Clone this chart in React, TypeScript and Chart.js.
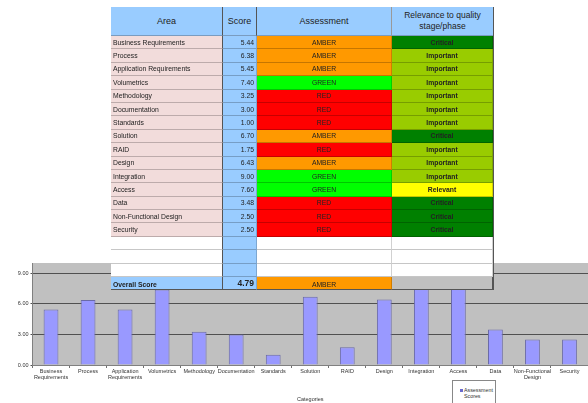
import React, { useEffect, useRef } from "react";
import { Chart, registerables } from "chart.js";

Chart.register(...registerables);

const categories = [
  "Business Requirements",
  "Process",
  "Application Requirements",
  "Volumetrics",
  "Methodology",
  "Documentation",
  "Standards",
  "Solution",
  "RAID",
  "Design",
  "Integration",
  "Access",
  "Data",
  "Non-Functional Design",
  "Security",
];
const scores = [5.44, 6.38, 5.45, 7.4, 3.25, 3.0, 1.0, 6.7, 1.75, 6.43, 9.0, 7.6, 3.48, 2.5, 2.5];
const assessments = [
  "AMBER", "AMBER", "AMBER", "GREEN", "RED", "RED", "RED", "AMBER",
  "RED", "AMBER", "GREEN", "GREEN", "RED", "RED", "RED",
];
const relevance = [
  "Critical", "Important", "Important", "Important", "Important", "Important",
  "Important", "Critical", "Important", "Important", "Important", "Relevant",
  "Critical", "Critical", "Critical",
];
const overallScore = 4.79;
const overallAssessment = "AMBER";
const yTicks = [0, 3, 6, 9];
const seriesName = "Assessment Scores";
const xAxisTitle = "Categories";

const assessColor: Record<string, string> = {
  AMBER: "#FF9900",
  GREEN: "#00FF00",
  RED: "#FF0000",
};
const relColor: Record<string, string> = {
  Critical: "#008000",
  Important: "#99CC00",
  Relevant: "#FFFF00",
};

const FONT = "'Liberation Sans', Arial, sans-serif";
const COLS = [112, 34, 135, 101];
const ROW_H = 13.4;

const plotBg = {
  id: "plotBg",
  beforeDraw(chart: any) {
    const { ctx, chartArea } = chart;
    ctx.save();
    ctx.fillStyle = "#C0C0C0";
    ctx.fillRect(chartArea.left, chartArea.top, chartArea.right - chartArea.left, chartArea.bottom - chartArea.top);
    ctx.restore();
  },
};

function Cell(props: { w: number; h: number; bg: string; children?: any; style?: any }) {
  return (
    <div
      style={{
        boxSizing: "border-box",
        width: props.w,
        height: props.h,
        background: props.bg,
        borderBottom: "1px solid rgba(0,0,0,0.22)",
        borderRight: "1px solid rgba(0,0,0,0.18)",
        display: "flex",
        alignItems: "center",
        overflow: "hidden",
        whiteSpace: "nowrap",
        fontFamily: FONT,
        fontSize: 6.8,
        color: "#222",
        ...props.style,
      }}
    >
      {props.children}
    </div>
  );
}

function Table() {
  const rows: any[] = [];
  categories.forEach((c, i) => {
    rows.push(
      <div key={c} style={{ display: "flex" }}>
        <Cell w={COLS[0]} h={ROW_H} bg="#F2DCDB" style={{ paddingLeft: 2, borderRight: "1px solid #555" }}>{c}</Cell>
        <Cell w={COLS[1]} h={ROW_H} bg="#99CCFF" style={{ justifyContent: "flex-end", paddingRight: 2 }}>{scores[i].toFixed(2)}</Cell>
        <Cell w={COLS[2]} h={ROW_H} bg={assessColor[assessments[i]]} style={{ justifyContent: "center" }}>{assessments[i]}</Cell>
        <Cell w={COLS[3]} h={ROW_H} bg={relColor[relevance[i]]} style={{ justifyContent: "center", fontWeight: "bold" }}>{relevance[i]}</Cell>
      </div>
    );
  });
  for (let k = 0; k < 3; k++) {
    rows.push(
      <div key={"e" + k} style={{ display: "flex" }}>
        <Cell w={COLS[0]} h={ROW_H} bg="#FFFFFF" style={{ borderRight: "1px solid #555" }} />
        <Cell w={COLS[1]} h={ROW_H} bg="#99CCFF" />
        <Cell w={COLS[2]} h={ROW_H} bg="#FFFFFF" />
        <Cell w={COLS[3]} h={ROW_H} bg="#FFFFFF" />
      </div>
    );
  }
  rows.push(
    <div key="overall" style={{ display: "flex" }}>
      <Cell w={COLS[0]} h={ROW_H} bg="#99CCFF" style={{ paddingLeft: 2, fontWeight: "bold", borderRight: "1px solid #555", borderBottom: "1px solid #555", alignItems: "flex-end", paddingBottom: 1 }}>Overall Score</Cell>
      <Cell w={COLS[1]} h={ROW_H} bg="#99CCFF" style={{ justifyContent: "flex-end", paddingRight: 2, fontWeight: "bold", fontSize: 8.5, borderBottom: "1px solid #555" }}>{overallScore.toFixed(2)}</Cell>
      <Cell w={COLS[2]} h={ROW_H} bg={assessColor[overallAssessment]} style={{ justifyContent: "center", borderBottom: "1px solid #555", alignItems: "flex-end", paddingBottom: 1 }}>{overallAssessment}</Cell>
      <Cell w={COLS[3]} h={ROW_H} bg="#C0C0C0" style={{ borderBottom: "1px solid #555", borderRight: "1px solid #555" }} />
    </div>
  );
  const headStyle = { justifyContent: "center", fontSize: 9, borderRight: "1px solid #555", borderBottom: "1px solid #7a9cc0", textAlign: "center" as const, whiteSpace: "normal" as const, lineHeight: "11px" };
  return (
    <div style={{ position: "absolute", left: 111, top: 7, width: COLS.reduce((a, b) => a + b, 0), borderRight: "1px solid #555" }}>
      <div style={{ display: "flex" }}>
        <Cell w={COLS[0]} h={29} bg="#99CCFF" style={headStyle}>Area</Cell>
        <Cell w={COLS[1]} h={29} bg="#99CCFF" style={headStyle}>Score</Cell>
        <Cell w={COLS[2]} h={29} bg="#99CCFF" style={{ ...headStyle, borderRight: "1px solid #999" }}>Assessment</Cell>
        <Cell w={COLS[3]} h={29} bg="#99CCFF" style={{ ...headStyle, fontSize: 8.5, borderRight: "none" }}>
          Relevance to quality
          <br />
          stage/phase
        </Cell>
      </div>
      {rows}
    </div>
  );
}

export default function App() {
  const ref = useRef<HTMLCanvasElement>(null);
  useEffect(() => {
    if (!ref.current) return;
    const chart = new Chart(ref.current, {
      type: "bar",
      data: {
        labels: categories.map((c) => (c.includes(" ") ? c.split(" ") : c)),
        datasets: [
          {
            label: seriesName,
            data: scores,
            backgroundColor: "#9999FF",
            borderColor: "#6a6aa8",
            borderWidth: 1,
            barPercentage: 0.4,
            categoryPercentage: 1,
          },
        ],
      },
      options: {
        animation: false,
        responsive: false,
        layout: { padding: { top: 8, left: 0, right: 0, bottom: 0 } },
        plugins: { legend: { display: false }, tooltip: { enabled: false } },
        scales: {
          x: {
            offset: true,
            grid: { display: true, drawOnChartArea: false, tickLength: 3, color: "#707070", offset: true },
            border: { color: "#808080" },
            ticks: {
              autoSkip: false,
              maxRotation: 0,
              padding: 1,
              color: "#333",
              font: { family: FONT, size: 5.5, lineHeight: 1.05 },
            },
            title: { display: true, text: xAxisTitle, color: "#333", font: { family: FONT, size: 5.5 }, padding: 0 },
            afterFit(scale: any) {
              scale.height = 38;
            },
          },
          y: {
            min: 0,
            max: 10,
            afterBuildTicks(scale: any) {
              scale.ticks = yTicks.map((v) => ({ value: v }));
            },
            grid: { color: "#505050", tickLength: 2, lineWidth: 1 },
            border: { color: "#808080" },
            ticks: {
              padding: 2,
              color: "#333",
              font: { family: FONT, size: 5.5 },
              callback: (v: any) => Number(v).toFixed(2),
            },
            afterFit(scale: any) {
              scale.width = 32.5;
            },
          },
        },
      },
      plugins: [plotBg],
    });
    return () => chart.destroy();
  }, []);

  return (
    <div style={{ position: "absolute", left: 0, top: 0, width: 588, height: 403, overflow: "hidden", background: "#fff" }}>
      <canvas ref={ref} width={588} height={148} style={{ position: "absolute", left: 0, top: 255, width: 588, height: 148 }} />
      <Table />
      <div
        style={{
          position: "absolute",
          left: 452,
          top: 380,
          width: 44,
          height: 30,
          boxSizing: "border-box",
          border: "1px solid #888",
          background: "#fff",
          fontFamily: FONT,
          fontSize: 5.3,
          color: "#333",
          paddingTop: 6,
          paddingLeft: 7,
          lineHeight: "6px",
        }}
      >
        <span style={{ display: "inline-block", width: 3, height: 3, background: "#6a6acc", marginRight: 1, verticalAlign: "middle" }} />
        Assessment
        <br />
        <span style={{ paddingLeft: 4 }}>Scores</span>
      </div>
    </div>
  );
}
